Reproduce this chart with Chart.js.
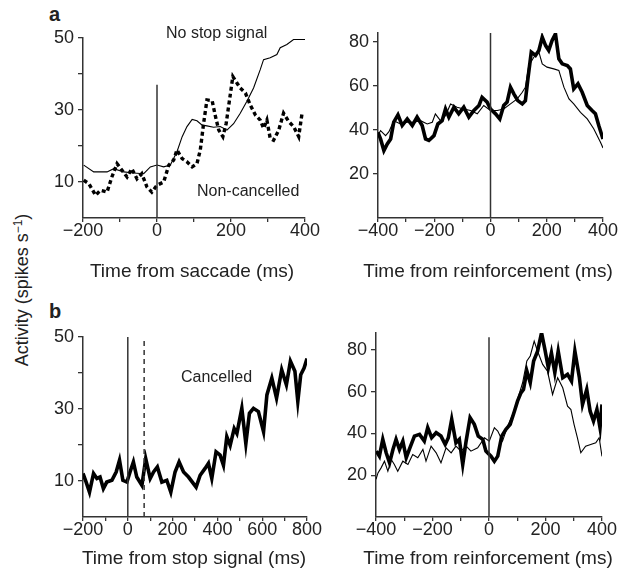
<!DOCTYPE html>
<html>
<head>
<meta charset="utf-8">
<script src="https://cdn.jsdelivr.net/npm/chart.js@4"></script>
<style>
  body { margin: 0; width: 627px; height: 569px; overflow: hidden; background: #fff; position: relative;
         font-family: 'Liberation Sans', Arial, sans-serif; color: #222; }
  canvas { position: absolute; }
  .letra { position: absolute; font-weight: bold; font-size: 20px; line-height: 20px; }
  #ylabel { position: absolute; left: 22px; top: 290px; font-size: 18px; white-space: nowrap;
            transform: translate(-50%, -50%) rotate(-90deg); }
  #ylabel sup { font-size: 12px; vertical-align: 6px; line-height: 0; }
</style>
</head>
<body>
<div class="letra" style="left:49px;top:4px">a</div>
<div class="letra" style="left:49px;top:301px">b</div>
<div id="ylabel">Activity (spikes s<sup>&minus;1</sup>)</div>
<canvas id="grafico_a1"></canvas>
<canvas id="grafico_a2"></canvas>
<canvas id="grafico_b1"></canvas>
<canvas id="grafico_b2"></canvas>
<script>
// a, left: time from saccade
const t_noStop = [-198, -171, -135, -117, -90, -63, -36, -18, 0, 18, 36, 54, 68, 81, 95, 108, 122, 135, 153, 171, 189, 207, 225, 243, 261, 279, 288, 306, 324, 333, 351, 369, 387, 400]
const v_noStop = [14.7, 12.8, 12.8, 13.7, 12.8, 12.5, 12.3, 14.2, 14.7, 14.2, 14.7, 18.4, 22.6, 25.4, 27.4, 27, 25.8, 25.6, 25.2, 25.4, 24.4, 26.2, 29.1, 32.4, 36.1, 41.2, 44, 44.5, 45.4, 47.3, 48.2, 49.6, 49.6, 49.6]
const t_nonCanc = [-198, -184, -166, -153, -135, -122, -108, -95, -81, -68, -54, -41, -27, -14, 0, 18, 32, 45, 54, 68, 81, 95, 108, 117, 126, 135, 149, 158, 167, 178, 187, 196, 205, 216, 225, 239, 252, 266, 279, 288, 297, 306, 315, 329, 342, 356, 369, 383, 392]
const v_nonCanc = [10.5, 9.5, 6.3, 7.7, 7.2, 11.4, 15.1, 13.3, 11.4, 13.7, 10.9, 12.3, 8.6, 7.2, 9.1, 10, 14.7, 16.1, 18.9, 16.5, 15.6, 14.2, 15.1, 18.9, 26.3, 32.8, 32.6, 28.2, 24.4, 22.6, 26.3, 32.8, 39.3, 37.5, 36.1, 34.7, 31.4, 28.6, 27.2, 24.9, 27.2, 22.1, 21.6, 24.4, 29.1, 26.8, 25.4, 22.6, 29.1]

// a, right: time from reinforcement
const t_a2Thick = [-400, -391, -379, -367, -355, -344, -329, -314, -296, -278, -261, -243, -231, -219, -201, -187, -172, -160, -148, -130, -113, -95, -77, -59, -41, -30, -12, 0, 18, 33, 47, 59, 71, 83, 97, 113, 124, 133, 145, 160, 172, 184, 196, 207, 219, 231, 243, 255, 273, 284, 296, 311, 326, 344, 361, 373, 385, 400]
const v_a2Thick = [38.9, 35.9, 30.6, 33.6, 35.9, 43.5, 46.8, 42, 45, 42, 45.8, 42, 35.9, 35.2, 37.4, 42.7, 44.2, 49.5, 45.8, 50.3, 47.3, 50.3, 45.8, 48.8, 51.1, 54.8, 52.6, 49.5, 47.3, 45, 51.1, 52.6, 59.4, 56.4, 53.3, 51.8, 53.3, 63.2, 75.3, 73.8, 76.1, 82.1, 78.3, 76.1, 80.6, 83.6, 72.3, 70, 69.2, 67.7, 58.6, 60.9, 57.1, 51.1, 48.8, 47.3, 42, 35.9]
const t_a2Thin = [-400, -391, -373, -361, -344, -320, -296, -273, -249, -225, -207, -196, -178, -160, -142, -119, -95, -71, -47, -24, 0, 24, 47, 71, 95, 113, 124, 136, 154, 172, 184, 201, 225, 243, 261, 279, 296, 320, 344, 367, 391, 400]
const v_a2Thin = [37.4, 39.7, 37.4, 39.2, 44.2, 42.7, 43.5, 43.5, 44.2, 42.7, 43.5, 47.3, 44.2, 46.5, 51.8, 50.3, 49.5, 48.8, 47.3, 51.1, 48.8, 48.8, 49.5, 51.8, 54.1, 57.1, 59.4, 69.2, 73, 75.3, 70, 68.5, 67.7, 67, 59.4, 54.1, 51.8, 48, 45, 40.5, 34.4, 31.8]

// b, left: time from stop signal
const t_canc = [-200, -186, -171, -153, -138, -124, -109, -94, -71, -52, -37, -22, -4, 10, 25, 40, 63, 80, 100, 115, 132, 152, 174, 192, 211, 229, 249, 271, 305, 323, 345, 360, 375, 394, 412, 427, 442, 457, 475, 487, 509, 527, 543, 561, 583, 606, 621, 643, 664, 687, 708, 726, 746, 759, 772, 787, 800]
const v_canc = [12.1, 9.7, 6.9, 12.1, 10.7, 11.1, 7.9, 9.7, 10.2, 12.5, 15.8, 10.2, 9.7, 12.5, 15.3, 11.1, 8.8, 16.2, 10.7, 12.5, 13.9, 9.7, 10.2, 6.9, 12.5, 15.3, 12.5, 11.1, 8.3, 11.6, 13.5, 14.9, 10.7, 18.1, 17.2, 14.4, 22.3, 19.9, 24.6, 23.2, 30.2, 20.4, 28.8, 30.2, 29.3, 23.7, 33.9, 38.6, 33, 40.9, 36.7, 43.3, 40.5, 32.1, 39.5, 41.4, 44]

// b, right: time from reinforcement
const t_b2Thick = [-399, -388, -376, -364, -352, -340, -329, -317, -305, -293, -282, -264, -246, -229, -217, -203, -187, -170, -155, -144, -132, -117, -105, -93, -81, -67, -52, -38, -22, -11, 7, 19, 31, 45, 60, 75, 90, 101, 113, 122, 134, 146, 158, 172, 186, 198, 210, 221, 233, 245, 261, 278, 292, 304, 320, 331, 346, 358, 370, 382, 393, 400]
const v_b2Thick = [31.5, 29.1, 37.1, 30.7, 25.9, 32.3, 37.1, 32.3, 36.3, 28.3, 32.3, 38.7, 39.5, 36.3, 42.7, 37.9, 40.3, 38.7, 34.7, 37.9, 46.7, 35.5, 37.1, 25.1, 36.3, 47.5, 44.3, 38.7, 37.1, 31.5, 29.1, 26.7, 29.1, 38.7, 41.9, 44.3, 50.6, 55.4, 59.4, 61, 69.8, 64.2, 74.6, 79.3, 88.1, 80.1, 71.4, 78.5, 69, 79.3, 66.6, 68.2, 65, 79.3, 66.6, 53.8, 61, 50.6, 45.9, 51.4, 42.7, 53.8]
const t_b2Thin = [-400, -393, -382, -370, -358, -346, -335, -323, -305, -287, -270, -252, -234, -223, -205, -187, -170, -152, -134, -117, -99, -81, -64, -40, -16, 1, 19, 31, 48, 66, 84, 101, 119, 134, 146, 160, 172, 190, 207, 225, 243, 261, 278, 290, 301, 313, 325, 342, 360, 378, 390, 400]
const v_b2Thin = [18, 21.1, 23.5, 26.7, 21.9, 27.5, 25.1, 21.9, 26.7, 25.1, 29.9, 28.3, 32.3, 26.7, 33.9, 30.7, 25.9, 33.1, 30.7, 33.9, 31.5, 33.9, 31.5, 33.1, 37.9, 36.3, 42.7, 41.1, 36.3, 43.5, 49, 56.2, 64.2, 74.6, 77, 84.1, 79.3, 73, 69.8, 58.6, 66.6, 61.8, 53, 51.4, 44.3, 37.9, 30.7, 33.9, 34.7, 35.5, 37.9, 29]

// event markers (time, top of the line)
const marca_saccade = [0, 37]
const marca_reforco_a = [0, 84]
const marca_stop = [0, 50]
const marca_ssrt = [73, 49.5]
const marca_reforco_b = [0, 86]

const AXIS = '#333'
const TEXT = '#222'
const FONT = "'Liberation Sans', Arial, sans-serif"
const MARGIN = { l: 70, t: 20, r: 24, b: 70 }

Chart.defaults.font.family = FONT

function pts(ts, vs) {
    return ts.map((t, i) => ({ x: t, y: vs[i] }))
}

function thin(ts, vs) {
    return { data: pts(ts, vs), borderColor: '#000', borderWidth: 1.1, pointRadius: 0, tension: 0 }
}

function thick(ts, vs) {
    return { data: pts(ts, vs), borderColor: '#000', borderWidth: 3.6, pointRadius: 0, tension: 0 }
}

function marca(m, dashed) {
    return {
        data: [{ x: m[0], y: 0 }, { x: m[0], y: m[1] }],
        borderColor: AXIS, borderWidth: 1.5, pointRadius: 0, borderDash: dashed ? [5, 4] : []
    }
}

function fmt(v) {
    return v < 0 ? '\u2212' + (-v) : String(v)
}

// free text (annotations and axis titles), given in page pixels
const notasPlugin = {
    id: 'notas',
    afterDraw(chart, args, opts) {
        const ctx = chart.ctx
        ctx.save()
        ctx.fillStyle = TEXT
        ctx.textBaseline = 'alphabetic'
        ;(opts.items || []).forEach(n => {
            ctx.font = (n.size || 16) + 'px ' + FONT
            ctx.textAlign = n.align || 'left'
            ctx.fillText(n.text, n.x - opts.left, n.y - opts.top)
        })
        ctx.restore()
    }
}

function makePanel(p) {
    const canvas = document.getElementById(p.id)
    const [l, t, r, b] = p.box
    const left = l - MARGIN.l
    const top = t - MARGIN.t
    canvas.width = r - l + MARGIN.l + MARGIN.r
    canvas.height = b - t + MARGIN.t + MARGIN.b
    canvas.style.left = left + 'px'
    canvas.style.top = top + 'px'

    const notes = (p.notes || []).concat([
        { text: p.title, x: p.titleX, y: p.titleY, size: 19, align: 'center' }
    ])

    return new Chart(canvas, {
        type: 'line',
        data: { datasets: p.datasets },
        options: {
            responsive: false,
            animation: false,
            events: [],
            layout: { padding: { top: MARGIN.t, right: MARGIN.r, left: 0, bottom: 0 } },
            plugins: {
                legend: { display: false },
                tooltip: { enabled: false },
                notas: { left: left, top: top, items: notes }
            },
            scales: {
                x: {
                    type: 'linear',
                    min: p.xMin,
                    max: p.xMax,
                    afterFit: s => { s.height = MARGIN.b },
                    border: { color: AXIS, width: 1.5 },
                    grid: { drawOnChartArea: false, tickLength: 4, color: AXIS, lineWidth: 1.3 },
                    ticks: {
                        stepSize: 100, autoSkip: false, maxRotation: 0, includeBounds: false,
                        padding: -2, color: TEXT, font: { size: 18 },
                        callback: v => v % 200 === 0 ? fmt(v) : ''
                    }
                },
                y: {
                    type: 'linear',
                    min: 0,
                    max: p.yMax,
                    afterFit: s => { s.width = MARGIN.l },
                    border: { color: AXIS, width: 1.5 },
                    grid: {
                        drawOnChartArea: false, tickLength: 5, lineWidth: 1.3, color: AXIS,
                        tickColor: c => (c.tick && c.tick.value === 0) ? 'rgba(0,0,0,0)' : AXIS
                    },
                    ticks: {
                        stepSize: p.yStep, autoSkip: false, includeBounds: false,
                        padding: 4, color: TEXT, font: { size: 18 },
                        callback: p.yLabel
                    }
                }
            }
        },
        plugins: [notasPlugin]
    })
}

const labelImpar = v => v % 20 === 10 ? String(v) : ''
const labelPar = v => v > 0 ? String(v) : ''

const graficoA1 = makePanel({
    id: 'grafico_a1', box: [83, 38, 305, 218],
    xMin: -200, xMax: 400, yMax: 50, yStep: 10, yLabel: labelImpar,
    title: 'Time from saccade (ms)', titleX: 192, titleY: 277,
    datasets: [
        marca(marca_saccade),
        thin(t_noStop, v_noStop),
        Object.assign(thick(t_nonCanc, v_nonCanc), { borderDash: [4, 3], borderWidth: 3.4 })
    ],
    notes: [
        { text: 'No stop signal', x: 166, y: 38 },
        { text: 'Non-cancelled', x: 197, y: 196 }
    ]
})

const graficoA2 = makePanel({
    id: 'grafico_a2', box: [378, 33, 603, 218],
    xMin: -400, xMax: 400, yMax: 84, yStep: 20, yLabel: labelPar,
    title: 'Time from reinforcement (ms)', titleX: 488, titleY: 277,
    datasets: [
        marca(marca_reforco_a),
        thin(t_a2Thin, v_a2Thin),
        thick(t_a2Thick, v_a2Thick)
    ]
})

const graficoB1 = makePanel({
    id: 'grafico_b1', box: [83, 337, 307, 517],
    xMin: -200, xMax: 800, yMax: 50, yStep: 10, yLabel: labelImpar,
    title: 'Time from stop signal (ms)', titleX: 194, titleY: 564,
    datasets: [
        marca(marca_stop),
        marca(marca_ssrt, true),
        thick(t_canc, v_canc)
    ],
    notes: [
        { text: 'Cancelled', x: 181, y: 382 }
    ]
})

const graficoB2 = makePanel({
    id: 'grafico_b2', box: [376, 333, 602, 517],
    xMin: -400, xMax: 400, yMax: 88, yStep: 20, yLabel: labelPar,
    title: 'Time from reinforcement (ms)', titleX: 488, titleY: 564,
    datasets: [
        marca(marca_reforco_b),
        thin(t_b2Thin, v_b2Thin),
        thick(t_b2Thick, v_b2Thick)
    ]
})
</script>
</body>
</html>
